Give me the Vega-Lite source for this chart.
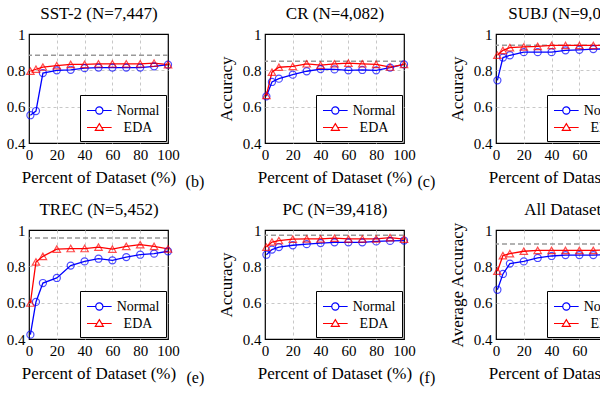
{
  "$schema": "https://vega.github.io/schema/vega-lite/v6.json",
  "background": "white",
  "padding": {"left": 5, "top": 3, "right": 5, "bottom": 5},
  "datasets": {
    "acc": [
      {"panel": "SST-2", "series": "Normal", "pct": 1, "acc": 0.553},
      {"panel": "SST-2", "series": "Normal", "pct": 5, "acc": 0.576},
      {"panel": "SST-2", "series": "Normal", "pct": 10, "acc": 0.785},
      {"panel": "SST-2", "series": "Normal", "pct": 20, "acc": 0.800},
      {"panel": "SST-2", "series": "Normal", "pct": 30, "acc": 0.803},
      {"panel": "SST-2", "series": "Normal", "pct": 40, "acc": 0.812},
      {"panel": "SST-2", "series": "Normal", "pct": 50, "acc": 0.815},
      {"panel": "SST-2", "series": "Normal", "pct": 60, "acc": 0.815},
      {"panel": "SST-2", "series": "Normal", "pct": 70, "acc": 0.815},
      {"panel": "SST-2", "series": "Normal", "pct": 80, "acc": 0.815},
      {"panel": "SST-2", "series": "Normal", "pct": 90, "acc": 0.822},
      {"panel": "SST-2", "series": "Normal", "pct": 100, "acc": 0.831},
      {"panel": "SST-2", "series": "EDA", "pct": 1, "acc": 0.795},
      {"panel": "SST-2", "series": "EDA", "pct": 5, "acc": 0.806},
      {"panel": "SST-2", "series": "EDA", "pct": 10, "acc": 0.818},
      {"panel": "SST-2", "series": "EDA", "pct": 20, "acc": 0.826},
      {"panel": "SST-2", "series": "EDA", "pct": 30, "acc": 0.833},
      {"panel": "SST-2", "series": "EDA", "pct": 40, "acc": 0.833},
      {"panel": "SST-2", "series": "EDA", "pct": 50, "acc": 0.836},
      {"panel": "SST-2", "series": "EDA", "pct": 60, "acc": 0.836},
      {"panel": "SST-2", "series": "EDA", "pct": 70, "acc": 0.836},
      {"panel": "SST-2", "series": "EDA", "pct": 80, "acc": 0.836},
      {"panel": "SST-2", "series": "EDA", "pct": 90, "acc": 0.840},
      {"panel": "SST-2", "series": "EDA", "pct": 100, "acc": 0.831},
      {"panel": "CR", "series": "Normal", "pct": 1, "acc": 0.657},
      {"panel": "CR", "series": "Normal", "pct": 5, "acc": 0.736},
      {"panel": "CR", "series": "Normal", "pct": 10, "acc": 0.754},
      {"panel": "CR", "series": "Normal", "pct": 20, "acc": 0.776},
      {"panel": "CR", "series": "Normal", "pct": 30, "acc": 0.795},
      {"panel": "CR", "series": "Normal", "pct": 40, "acc": 0.807},
      {"panel": "CR", "series": "Normal", "pct": 50, "acc": 0.805},
      {"panel": "CR", "series": "Normal", "pct": 60, "acc": 0.800},
      {"panel": "CR", "series": "Normal", "pct": 70, "acc": 0.802},
      {"panel": "CR", "series": "Normal", "pct": 80, "acc": 0.800},
      {"panel": "CR", "series": "Normal", "pct": 90, "acc": 0.815},
      {"panel": "CR", "series": "Normal", "pct": 100, "acc": 0.833},
      {"panel": "CR", "series": "EDA", "pct": 1, "acc": 0.662},
      {"panel": "CR", "series": "EDA", "pct": 5, "acc": 0.790},
      {"panel": "CR", "series": "EDA", "pct": 10, "acc": 0.817},
      {"panel": "CR", "series": "EDA", "pct": 20, "acc": 0.822},
      {"panel": "CR", "series": "EDA", "pct": 30, "acc": 0.836},
      {"panel": "CR", "series": "EDA", "pct": 40, "acc": 0.829},
      {"panel": "CR", "series": "EDA", "pct": 50, "acc": 0.836},
      {"panel": "CR", "series": "EDA", "pct": 60, "acc": 0.840},
      {"panel": "CR", "series": "EDA", "pct": 70, "acc": 0.836},
      {"panel": "CR", "series": "EDA", "pct": 80, "acc": 0.833},
      {"panel": "CR", "series": "EDA", "pct": 90, "acc": 0.818},
      {"panel": "CR", "series": "EDA", "pct": 100, "acc": 0.833},
      {"panel": "SUBJ", "series": "Normal", "pct": 1, "acc": 0.745},
      {"panel": "SUBJ", "series": "Normal", "pct": 5, "acc": 0.870},
      {"panel": "SUBJ", "series": "Normal", "pct": 10, "acc": 0.883},
      {"panel": "SUBJ", "series": "Normal", "pct": 20, "acc": 0.900},
      {"panel": "SUBJ", "series": "Normal", "pct": 30, "acc": 0.900},
      {"panel": "SUBJ", "series": "Normal", "pct": 40, "acc": 0.900},
      {"panel": "SUBJ", "series": "Normal", "pct": 50, "acc": 0.910},
      {"panel": "SUBJ", "series": "Normal", "pct": 60, "acc": 0.913},
      {"panel": "SUBJ", "series": "Normal", "pct": 70, "acc": 0.917},
      {"panel": "SUBJ", "series": "Normal", "pct": 80, "acc": 0.918},
      {"panel": "SUBJ", "series": "Normal", "pct": 90, "acc": 0.920},
      {"panel": "SUBJ", "series": "Normal", "pct": 100, "acc": 0.920},
      {"panel": "SUBJ", "series": "EDA", "pct": 1, "acc": 0.883},
      {"panel": "SUBJ", "series": "EDA", "pct": 5, "acc": 0.910},
      {"panel": "SUBJ", "series": "EDA", "pct": 10, "acc": 0.925},
      {"panel": "SUBJ", "series": "EDA", "pct": 20, "acc": 0.929},
      {"panel": "SUBJ", "series": "EDA", "pct": 30, "acc": 0.932},
      {"panel": "SUBJ", "series": "EDA", "pct": 40, "acc": 0.937},
      {"panel": "SUBJ", "series": "EDA", "pct": 50, "acc": 0.937},
      {"panel": "SUBJ", "series": "EDA", "pct": 60, "acc": 0.937},
      {"panel": "SUBJ", "series": "EDA", "pct": 70, "acc": 0.937},
      {"panel": "SUBJ", "series": "EDA", "pct": 80, "acc": 0.937},
      {"panel": "SUBJ", "series": "EDA", "pct": 90, "acc": 0.937},
      {"panel": "SUBJ", "series": "EDA", "pct": 100, "acc": 0.937},
      {"panel": "TREC", "series": "Normal", "pct": 1, "acc": 0.424},
      {"panel": "TREC", "series": "Normal", "pct": 5, "acc": 0.604},
      {"panel": "TREC", "series": "Normal", "pct": 10, "acc": 0.708},
      {"panel": "TREC", "series": "Normal", "pct": 20, "acc": 0.736},
      {"panel": "TREC", "series": "Normal", "pct": 30, "acc": 0.804},
      {"panel": "TREC", "series": "Normal", "pct": 40, "acc": 0.827},
      {"panel": "TREC", "series": "Normal", "pct": 50, "acc": 0.842},
      {"panel": "TREC", "series": "Normal", "pct": 60, "acc": 0.833},
      {"panel": "TREC", "series": "Normal", "pct": 70, "acc": 0.851},
      {"panel": "TREC", "series": "Normal", "pct": 80, "acc": 0.864},
      {"panel": "TREC", "series": "Normal", "pct": 90, "acc": 0.870},
      {"panel": "TREC", "series": "Normal", "pct": 100, "acc": 0.883},
      {"panel": "TREC", "series": "EDA", "pct": 1, "acc": 0.598},
      {"panel": "TREC", "series": "EDA", "pct": 5, "acc": 0.824},
      {"panel": "TREC", "series": "EDA", "pct": 10, "acc": 0.855},
      {"panel": "TREC", "series": "EDA", "pct": 20, "acc": 0.895},
      {"panel": "TREC", "series": "EDA", "pct": 30, "acc": 0.898},
      {"panel": "TREC", "series": "EDA", "pct": 40, "acc": 0.898},
      {"panel": "TREC", "series": "EDA", "pct": 50, "acc": 0.906},
      {"panel": "TREC", "series": "EDA", "pct": 60, "acc": 0.895},
      {"panel": "TREC", "series": "EDA", "pct": 70, "acc": 0.910},
      {"panel": "TREC", "series": "EDA", "pct": 80, "acc": 0.919},
      {"panel": "TREC", "series": "EDA", "pct": 90, "acc": 0.910},
      {"panel": "TREC", "series": "EDA", "pct": 100, "acc": 0.896},
      {"panel": "PC", "series": "Normal", "pct": 1, "acc": 0.864},
      {"panel": "PC", "series": "Normal", "pct": 5, "acc": 0.892},
      {"panel": "PC", "series": "Normal", "pct": 10, "acc": 0.906},
      {"panel": "PC", "series": "Normal", "pct": 20, "acc": 0.916},
      {"panel": "PC", "series": "Normal", "pct": 30, "acc": 0.922},
      {"panel": "PC", "series": "Normal", "pct": 40, "acc": 0.928},
      {"panel": "PC", "series": "Normal", "pct": 50, "acc": 0.932},
      {"panel": "PC", "series": "Normal", "pct": 60, "acc": 0.932},
      {"panel": "PC", "series": "Normal", "pct": 70, "acc": 0.932},
      {"panel": "PC", "series": "Normal", "pct": 80, "acc": 0.937},
      {"panel": "PC", "series": "Normal", "pct": 90, "acc": 0.940},
      {"panel": "PC", "series": "Normal", "pct": 100, "acc": 0.942},
      {"panel": "PC", "series": "EDA", "pct": 1, "acc": 0.906},
      {"panel": "PC", "series": "EDA", "pct": 5, "acc": 0.934},
      {"panel": "PC", "series": "EDA", "pct": 10, "acc": 0.942},
      {"panel": "PC", "series": "EDA", "pct": 20, "acc": 0.950},
      {"panel": "PC", "series": "EDA", "pct": 30, "acc": 0.951},
      {"panel": "PC", "series": "EDA", "pct": 40, "acc": 0.951},
      {"panel": "PC", "series": "EDA", "pct": 50, "acc": 0.955},
      {"panel": "PC", "series": "EDA", "pct": 60, "acc": 0.951},
      {"panel": "PC", "series": "EDA", "pct": 70, "acc": 0.951},
      {"panel": "PC", "series": "EDA", "pct": 80, "acc": 0.951},
      {"panel": "PC", "series": "EDA", "pct": 90, "acc": 0.958},
      {"panel": "PC", "series": "EDA", "pct": 100, "acc": 0.950},
      {"panel": "All", "series": "Normal", "pct": 1, "acc": 0.671},
      {"panel": "All", "series": "Normal", "pct": 5, "acc": 0.758},
      {"panel": "All", "series": "Normal", "pct": 10, "acc": 0.815},
      {"panel": "All", "series": "Normal", "pct": 20, "acc": 0.827},
      {"panel": "All", "series": "Normal", "pct": 30, "acc": 0.846},
      {"panel": "All", "series": "Normal", "pct": 40, "acc": 0.857},
      {"panel": "All", "series": "Normal", "pct": 50, "acc": 0.862},
      {"panel": "All", "series": "Normal", "pct": 60, "acc": 0.862},
      {"panel": "All", "series": "Normal", "pct": 70, "acc": 0.862},
      {"panel": "All", "series": "Normal", "pct": 80, "acc": 0.865},
      {"panel": "All", "series": "Normal", "pct": 90, "acc": 0.870},
      {"panel": "All", "series": "Normal", "pct": 100, "acc": 0.872},
      {"panel": "All", "series": "EDA", "pct": 1, "acc": 0.773},
      {"panel": "All", "series": "EDA", "pct": 5, "acc": 0.859},
      {"panel": "All", "series": "EDA", "pct": 10, "acc": 0.870},
      {"panel": "All", "series": "EDA", "pct": 20, "acc": 0.883},
      {"panel": "All", "series": "EDA", "pct": 30, "acc": 0.888},
      {"panel": "All", "series": "EDA", "pct": 40, "acc": 0.888},
      {"panel": "All", "series": "EDA", "pct": 50, "acc": 0.888},
      {"panel": "All", "series": "EDA", "pct": 60, "acc": 0.888},
      {"panel": "All", "series": "EDA", "pct": 70, "acc": 0.888},
      {"panel": "All", "series": "EDA", "pct": 80, "acc": 0.890},
      {"panel": "All", "series": "EDA", "pct": 90, "acc": 0.890},
      {"panel": "All", "series": "EDA", "pct": 100, "acc": 0.890}
    ],
    "refs": [
      {"panel": "SST-2", "acc": 0.883},
      {"panel": "CR", "acc": 0.85},
      {"panel": "SUBJ", "acc": 0.938},
      {"panel": "TREC", "acc": 0.956},
      {"panel": "PC", "acc": 0.971},
      {"panel": "All", "acc": 0.923}
    ]
  },
  "columns": 3,
  "align": "each",
  "spacing": {"column": 11, "row": 8},
  "resolve": {
    "scale": {"color": "independent", "shape": "independent"},
    "legend": {"color": "independent", "shape": "independent"}
  },
  "concat": [
    {
      "width": 139, "height": 109,
      "title": {"text": "(b)", "orient": "bottom", "anchor": "end", "dx": 25, "offset": -11},
      "data": {"name": "acc"},
      "transform": [{"filter": "datum.panel === 'SST-2'"}],
      "layer": [
        {"data": {"name": "refs"}, "transform": [{"filter": "datum.panel === 'SST-2'"}],
         "mark": {"type": "rule", "color": "#999999", "strokeDash": [5, 3], "strokeWidth": 1.3},
         "encoding": {"y": {"field": "acc", "type": "quantitative", "scale": {"domain": [0.4, 1]}, "axis": {"title": null, "values": [0.4, 0.6, 0.8, 1], "labelExpr": "datum.value == 1 ? '1' : format(datum.value, '.1f')", "grid": true, "gridOpacity": {"condition": {"test": "datum.value == 0.4 || datum.value == 1", "value": 0}, "value": 1}}}}},
        {"mark": {"type": "line", "strokeWidth": 1.3},
         "encoding": {
           "x": {"field": "pct", "type": "quantitative", "scale": {"domain": [0, 100]}, "axis": {"orient": "bottom", "title": "Percent of Dataset (%)", "titleFontWeight": "normal", "titleFontSize": 17, "values": [0, 20, 40, 60, 80, 100], "grid": true, "gridOpacity": {"condition": {"test": "datum.value == 0 || datum.value == 100", "value": 0}, "value": 1}}},
           "y": {"field": "acc", "type": "quantitative", "scale": {"domain": [0.4, 1]}, "axis": {"title": null, "values": [0.4, 0.6, 0.8, 1], "labelExpr": "datum.value == 1 ? '1' : format(datum.value, '.1f')", "grid": true, "gridOpacity": {"condition": {"test": "datum.value == 0.4 || datum.value == 1", "value": 0}, "value": 1}}},
           "color": {"field": "series", "type": "nominal", "scale": {"domain": ["Normal", "EDA"], "range": ["#0000ff", "#ff0000"]}, "legend": {"title": null, "strokeColor": "black", "fillColor": "white", "symbolOpacity": 1}}}},
        {"transform": [{"filter": "datum.series === 'Normal'"}],
         "mark": {"type": "point", "shape": "circle", "filled": false, "strokeWidth": 1.2, "size": 50},
         "encoding": {
           "x": {"field": "pct", "type": "quantitative", "axis": null},
           "y": {"field": "acc", "type": "quantitative", "axis": {"title": null, "values": [0.4, 0.6, 0.8, 1], "labelExpr": "datum.value == 1 ? '1' : format(datum.value, '.1f')", "grid": true, "gridOpacity": {"condition": {"test": "datum.value == 0.4 || datum.value == 1", "value": 0}, "value": 1}}},
           "color": {"field": "series", "type": "nominal", "legend": {"title": null, "strokeColor": "black", "fillColor": "white", "symbolOpacity": 1}}}},
        {"transform": [{"filter": "datum.series === 'EDA'"}],
         "mark": {"type": "point", "shape": "triangle-up", "filled": false, "strokeWidth": 1.2, "size": 55},
         "encoding": {
           "x": {"field": "pct", "type": "quantitative", "axis": null},
           "y": {"field": "acc", "type": "quantitative", "axis": {"title": null, "values": [0.4, 0.6, 0.8, 1], "labelExpr": "datum.value == 1 ? '1' : format(datum.value, '.1f')", "grid": true, "gridOpacity": {"condition": {"test": "datum.value == 0.4 || datum.value == 1", "value": 0}, "value": 1}}},
           "color": {"field": "series", "type": "nominal", "legend": {"title": null, "strokeColor": "black", "fillColor": "white", "symbolOpacity": 1}}}},
        {"mark": {"type": "point", "filled": false, "opacity": 0, "strokeWidth": 1.2},
         "encoding": {
           "x": {"field": "pct", "type": "quantitative", "axis": {"orient": "top", "title": "SST-2 (N=7,447)", "titleFontWeight": "normal", "labels": false, "grid": false, "titleFontSize": 17, "titlePadding": 12}},
           "y": {"field": "acc", "type": "quantitative", "axis": {"title": null, "values": [0.4, 0.6, 0.8, 1], "labelExpr": "datum.value == 1 ? '1' : format(datum.value, '.1f')", "grid": true, "gridOpacity": {"condition": {"test": "datum.value == 0.4 || datum.value == 1", "value": 0}, "value": 1}}},
           "color": {"field": "series", "type": "nominal", "legend": {"title": null, "strokeColor": "black", "fillColor": "white", "symbolOpacity": 1}},
           "shape": {"field": "series", "type": "nominal", "scale": {"domain": ["Normal", "EDA"], "range": ["M-1,0L0.03,0M0.87,0L1.9,0M0.03,0A0.42,0.42,0,1,1,0.87,0A0.42,0.42,0,1,1,0.03,0", "M-1,0L0.18,0M0.72,0L1.9,0M0.45,-0.45L0.92,0.33L-0.02,0.33Z"]}, "legend": {"title": null, "strokeColor": "black", "fillColor": "white", "symbolOpacity": 1}}}}
      ]
    },
    {
      "width": 139, "height": 109,
      "title": {"text": "(c)", "orient": "bottom", "anchor": "end", "dx": 20, "offset": -11},
      "data": {"name": "acc"},
      "transform": [{"filter": "datum.panel === 'CR'"}],
      "layer": [
        {"data": {"name": "refs"}, "transform": [{"filter": "datum.panel === 'CR'"}],
         "mark": {"type": "rule", "color": "#999999", "strokeDash": [5, 3], "strokeWidth": 1.3},
         "encoding": {"y": {"field": "acc", "type": "quantitative", "scale": {"domain": [0.4, 1]}, "axis": {"title": "Accuracy", "values": [0.4, 0.6, 0.8, 1], "labelExpr": "datum.value == 1 ? '1' : format(datum.value, '.1f')", "grid": true, "gridOpacity": {"condition": {"test": "datum.value == 0.4 || datum.value == 1", "value": 0}, "value": 1}}}}},
        {"mark": {"type": "line", "strokeWidth": 1.3},
         "encoding": {
           "x": {"field": "pct", "type": "quantitative", "scale": {"domain": [0, 100]}, "axis": {"orient": "bottom", "title": "Percent of Dataset (%)", "titleFontWeight": "normal", "titleFontSize": 17, "values": [0, 20, 40, 60, 80, 100], "grid": true, "gridOpacity": {"condition": {"test": "datum.value == 0 || datum.value == 100", "value": 0}, "value": 1}}},
           "y": {"field": "acc", "type": "quantitative", "scale": {"domain": [0.4, 1]}, "axis": {"title": "Accuracy", "values": [0.4, 0.6, 0.8, 1], "labelExpr": "datum.value == 1 ? '1' : format(datum.value, '.1f')", "grid": true, "gridOpacity": {"condition": {"test": "datum.value == 0.4 || datum.value == 1", "value": 0}, "value": 1}}},
           "color": {"field": "series", "type": "nominal", "scale": {"domain": ["Normal", "EDA"], "range": ["#0000ff", "#ff0000"]}, "legend": {"title": null, "strokeColor": "black", "fillColor": "white", "symbolOpacity": 1}}}},
        {"transform": [{"filter": "datum.series === 'Normal'"}],
         "mark": {"type": "point", "shape": "circle", "filled": false, "strokeWidth": 1.2, "size": 50},
         "encoding": {
           "x": {"field": "pct", "type": "quantitative", "axis": null},
           "y": {"field": "acc", "type": "quantitative", "axis": {"title": "Accuracy", "values": [0.4, 0.6, 0.8, 1], "labelExpr": "datum.value == 1 ? '1' : format(datum.value, '.1f')", "grid": true, "gridOpacity": {"condition": {"test": "datum.value == 0.4 || datum.value == 1", "value": 0}, "value": 1}}},
           "color": {"field": "series", "type": "nominal", "legend": {"title": null, "strokeColor": "black", "fillColor": "white", "symbolOpacity": 1}}}},
        {"transform": [{"filter": "datum.series === 'EDA'"}],
         "mark": {"type": "point", "shape": "triangle-up", "filled": false, "strokeWidth": 1.2, "size": 55},
         "encoding": {
           "x": {"field": "pct", "type": "quantitative", "axis": null},
           "y": {"field": "acc", "type": "quantitative", "axis": {"title": "Accuracy", "values": [0.4, 0.6, 0.8, 1], "labelExpr": "datum.value == 1 ? '1' : format(datum.value, '.1f')", "grid": true, "gridOpacity": {"condition": {"test": "datum.value == 0.4 || datum.value == 1", "value": 0}, "value": 1}}},
           "color": {"field": "series", "type": "nominal", "legend": {"title": null, "strokeColor": "black", "fillColor": "white", "symbolOpacity": 1}}}},
        {"mark": {"type": "point", "filled": false, "opacity": 0, "strokeWidth": 1.2},
         "encoding": {
           "x": {"field": "pct", "type": "quantitative", "axis": {"orient": "top", "title": "CR (N=4,082)", "titleFontWeight": "normal", "labels": false, "grid": false, "titleFontSize": 17, "titlePadding": 12}},
           "y": {"field": "acc", "type": "quantitative", "axis": {"title": "Accuracy", "values": [0.4, 0.6, 0.8, 1], "labelExpr": "datum.value == 1 ? '1' : format(datum.value, '.1f')", "grid": true, "gridOpacity": {"condition": {"test": "datum.value == 0.4 || datum.value == 1", "value": 0}, "value": 1}}},
           "color": {"field": "series", "type": "nominal", "legend": {"title": null, "strokeColor": "black", "fillColor": "white", "symbolOpacity": 1}},
           "shape": {"field": "series", "type": "nominal", "scale": {"domain": ["Normal", "EDA"], "range": ["M-1,0L0.03,0M0.87,0L1.9,0M0.03,0A0.42,0.42,0,1,1,0.87,0A0.42,0.42,0,1,1,0.03,0", "M-1,0L0.18,0M0.72,0L1.9,0M0.45,-0.45L0.92,0.33L-0.02,0.33Z"]}, "legend": {"title": null, "strokeColor": "black", "fillColor": "white", "symbolOpacity": 1}}}}
      ]
    },
    {
      "width": 139, "height": 109,
      "data": {"name": "acc"},
      "transform": [{"filter": "datum.panel === 'SUBJ'"}],
      "layer": [
        {"data": {"name": "refs"}, "transform": [{"filter": "datum.panel === 'SUBJ'"}],
         "mark": {"type": "rule", "color": "#999999", "strokeDash": [5, 3], "strokeWidth": 1.3},
         "encoding": {"y": {"field": "acc", "type": "quantitative", "scale": {"domain": [0.4, 1]}, "axis": {"title": "Accuracy", "values": [0.4, 0.6, 0.8, 1], "labelExpr": "datum.value == 1 ? '1' : format(datum.value, '.1f')", "grid": true, "gridOpacity": {"condition": {"test": "datum.value == 0.4 || datum.value == 1", "value": 0}, "value": 1}}}}},
        {"mark": {"type": "line", "strokeWidth": 1.3},
         "encoding": {
           "x": {"field": "pct", "type": "quantitative", "scale": {"domain": [0, 100]}, "axis": {"orient": "bottom", "title": "Percent of Dataset (%)", "titleFontWeight": "normal", "titleFontSize": 17, "values": [0, 20, 40, 60, 80, 100], "grid": true, "gridOpacity": {"condition": {"test": "datum.value == 0 || datum.value == 100", "value": 0}, "value": 1}}},
           "y": {"field": "acc", "type": "quantitative", "scale": {"domain": [0.4, 1]}, "axis": {"title": "Accuracy", "values": [0.4, 0.6, 0.8, 1], "labelExpr": "datum.value == 1 ? '1' : format(datum.value, '.1f')", "grid": true, "gridOpacity": {"condition": {"test": "datum.value == 0.4 || datum.value == 1", "value": 0}, "value": 1}}},
           "color": {"field": "series", "type": "nominal", "scale": {"domain": ["Normal", "EDA"], "range": ["#0000ff", "#ff0000"]}, "legend": {"title": null, "strokeColor": "black", "fillColor": "white", "symbolOpacity": 1}}}},
        {"transform": [{"filter": "datum.series === 'Normal'"}],
         "mark": {"type": "point", "shape": "circle", "filled": false, "strokeWidth": 1.2, "size": 50},
         "encoding": {
           "x": {"field": "pct", "type": "quantitative", "axis": null},
           "y": {"field": "acc", "type": "quantitative", "axis": {"title": "Accuracy", "values": [0.4, 0.6, 0.8, 1], "labelExpr": "datum.value == 1 ? '1' : format(datum.value, '.1f')", "grid": true, "gridOpacity": {"condition": {"test": "datum.value == 0.4 || datum.value == 1", "value": 0}, "value": 1}}},
           "color": {"field": "series", "type": "nominal", "legend": {"title": null, "strokeColor": "black", "fillColor": "white", "symbolOpacity": 1}}}},
        {"transform": [{"filter": "datum.series === 'EDA'"}],
         "mark": {"type": "point", "shape": "triangle-up", "filled": false, "strokeWidth": 1.2, "size": 55},
         "encoding": {
           "x": {"field": "pct", "type": "quantitative", "axis": null},
           "y": {"field": "acc", "type": "quantitative", "axis": {"title": "Accuracy", "values": [0.4, 0.6, 0.8, 1], "labelExpr": "datum.value == 1 ? '1' : format(datum.value, '.1f')", "grid": true, "gridOpacity": {"condition": {"test": "datum.value == 0.4 || datum.value == 1", "value": 0}, "value": 1}}},
           "color": {"field": "series", "type": "nominal", "legend": {"title": null, "strokeColor": "black", "fillColor": "white", "symbolOpacity": 1}}}},
        {"mark": {"type": "point", "filled": false, "opacity": 0, "strokeWidth": 1.2},
         "encoding": {
           "x": {"field": "pct", "type": "quantitative", "axis": {"orient": "top", "title": "SUBJ (N=9,000)", "titleFontWeight": "normal", "labels": false, "grid": false, "titleFontSize": 17, "titlePadding": 12}},
           "y": {"field": "acc", "type": "quantitative", "axis": {"title": "Accuracy", "values": [0.4, 0.6, 0.8, 1], "labelExpr": "datum.value == 1 ? '1' : format(datum.value, '.1f')", "grid": true, "gridOpacity": {"condition": {"test": "datum.value == 0.4 || datum.value == 1", "value": 0}, "value": 1}}},
           "color": {"field": "series", "type": "nominal", "legend": {"title": null, "strokeColor": "black", "fillColor": "white", "symbolOpacity": 1}},
           "shape": {"field": "series", "type": "nominal", "scale": {"domain": ["Normal", "EDA"], "range": ["M-1,0L0.03,0M0.87,0L1.9,0M0.03,0A0.42,0.42,0,1,1,0.87,0A0.42,0.42,0,1,1,0.03,0", "M-1,0L0.18,0M0.72,0L1.9,0M0.45,-0.45L0.92,0.33L-0.02,0.33Z"]}, "legend": {"title": null, "strokeColor": "black", "fillColor": "white", "symbolOpacity": 1}}}}
      ]
    },
    {
      "width": 139, "height": 109,
      "title": {"text": "(e)", "orient": "bottom", "anchor": "end", "dx": 25, "offset": -11},
      "data": {"name": "acc"},
      "transform": [{"filter": "datum.panel === 'TREC'"}],
      "layer": [
        {"data": {"name": "refs"}, "transform": [{"filter": "datum.panel === 'TREC'"}],
         "mark": {"type": "rule", "color": "#999999", "strokeDash": [5, 3], "strokeWidth": 1.3},
         "encoding": {"y": {"field": "acc", "type": "quantitative", "scale": {"domain": [0.4, 1]}, "axis": {"title": null, "values": [0.4, 0.6, 0.8, 1], "labelExpr": "datum.value == 1 ? '1' : format(datum.value, '.1f')", "grid": true, "gridOpacity": {"condition": {"test": "datum.value == 0.4 || datum.value == 1", "value": 0}, "value": 1}}}}},
        {"mark": {"type": "line", "strokeWidth": 1.3},
         "encoding": {
           "x": {"field": "pct", "type": "quantitative", "scale": {"domain": [0, 100]}, "axis": {"orient": "bottom", "title": "Percent of Dataset (%)", "titleFontWeight": "normal", "titleFontSize": 17, "values": [0, 20, 40, 60, 80, 100], "grid": true, "gridOpacity": {"condition": {"test": "datum.value == 0 || datum.value == 100", "value": 0}, "value": 1}}},
           "y": {"field": "acc", "type": "quantitative", "scale": {"domain": [0.4, 1]}, "axis": {"title": null, "values": [0.4, 0.6, 0.8, 1], "labelExpr": "datum.value == 1 ? '1' : format(datum.value, '.1f')", "grid": true, "gridOpacity": {"condition": {"test": "datum.value == 0.4 || datum.value == 1", "value": 0}, "value": 1}}},
           "color": {"field": "series", "type": "nominal", "scale": {"domain": ["Normal", "EDA"], "range": ["#0000ff", "#ff0000"]}, "legend": {"title": null, "strokeColor": "black", "fillColor": "white", "symbolOpacity": 1}}}},
        {"transform": [{"filter": "datum.series === 'Normal'"}],
         "mark": {"type": "point", "shape": "circle", "filled": false, "strokeWidth": 1.2, "size": 50},
         "encoding": {
           "x": {"field": "pct", "type": "quantitative", "axis": null},
           "y": {"field": "acc", "type": "quantitative", "axis": {"title": null, "values": [0.4, 0.6, 0.8, 1], "labelExpr": "datum.value == 1 ? '1' : format(datum.value, '.1f')", "grid": true, "gridOpacity": {"condition": {"test": "datum.value == 0.4 || datum.value == 1", "value": 0}, "value": 1}}},
           "color": {"field": "series", "type": "nominal", "legend": {"title": null, "strokeColor": "black", "fillColor": "white", "symbolOpacity": 1}}}},
        {"transform": [{"filter": "datum.series === 'EDA'"}],
         "mark": {"type": "point", "shape": "triangle-up", "filled": false, "strokeWidth": 1.2, "size": 55},
         "encoding": {
           "x": {"field": "pct", "type": "quantitative", "axis": null},
           "y": {"field": "acc", "type": "quantitative", "axis": {"title": null, "values": [0.4, 0.6, 0.8, 1], "labelExpr": "datum.value == 1 ? '1' : format(datum.value, '.1f')", "grid": true, "gridOpacity": {"condition": {"test": "datum.value == 0.4 || datum.value == 1", "value": 0}, "value": 1}}},
           "color": {"field": "series", "type": "nominal", "legend": {"title": null, "strokeColor": "black", "fillColor": "white", "symbolOpacity": 1}}}},
        {"mark": {"type": "point", "filled": false, "opacity": 0, "strokeWidth": 1.2},
         "encoding": {
           "x": {"field": "pct", "type": "quantitative", "axis": {"orient": "top", "title": "TREC (N=5,452)", "titleFontWeight": "normal", "labels": false, "grid": false, "titleFontSize": 17, "titlePadding": 12}},
           "y": {"field": "acc", "type": "quantitative", "axis": {"title": null, "values": [0.4, 0.6, 0.8, 1], "labelExpr": "datum.value == 1 ? '1' : format(datum.value, '.1f')", "grid": true, "gridOpacity": {"condition": {"test": "datum.value == 0.4 || datum.value == 1", "value": 0}, "value": 1}}},
           "color": {"field": "series", "type": "nominal", "legend": {"title": null, "strokeColor": "black", "fillColor": "white", "symbolOpacity": 1}},
           "shape": {"field": "series", "type": "nominal", "scale": {"domain": ["Normal", "EDA"], "range": ["M-1,0L0.03,0M0.87,0L1.9,0M0.03,0A0.42,0.42,0,1,1,0.87,0A0.42,0.42,0,1,1,0.03,0", "M-1,0L0.18,0M0.72,0L1.9,0M0.45,-0.45L0.92,0.33L-0.02,0.33Z"]}, "legend": {"title": null, "strokeColor": "black", "fillColor": "white", "symbolOpacity": 1}}}}
      ]
    },
    {
      "width": 139, "height": 109,
      "title": {"text": "(f)", "orient": "bottom", "anchor": "end", "dx": 20, "offset": -11},
      "data": {"name": "acc"},
      "transform": [{"filter": "datum.panel === 'PC'"}],
      "layer": [
        {"data": {"name": "refs"}, "transform": [{"filter": "datum.panel === 'PC'"}],
         "mark": {"type": "rule", "color": "#999999", "strokeDash": [5, 3], "strokeWidth": 1.3},
         "encoding": {"y": {"field": "acc", "type": "quantitative", "scale": {"domain": [0.4, 1]}, "axis": {"title": "Accuracy", "values": [0.4, 0.6, 0.8, 1], "labelExpr": "datum.value == 1 ? '1' : format(datum.value, '.1f')", "grid": true, "gridOpacity": {"condition": {"test": "datum.value == 0.4 || datum.value == 1", "value": 0}, "value": 1}}}}},
        {"mark": {"type": "line", "strokeWidth": 1.3},
         "encoding": {
           "x": {"field": "pct", "type": "quantitative", "scale": {"domain": [0, 100]}, "axis": {"orient": "bottom", "title": "Percent of Dataset (%)", "titleFontWeight": "normal", "titleFontSize": 17, "values": [0, 20, 40, 60, 80, 100], "grid": true, "gridOpacity": {"condition": {"test": "datum.value == 0 || datum.value == 100", "value": 0}, "value": 1}}},
           "y": {"field": "acc", "type": "quantitative", "scale": {"domain": [0.4, 1]}, "axis": {"title": "Accuracy", "values": [0.4, 0.6, 0.8, 1], "labelExpr": "datum.value == 1 ? '1' : format(datum.value, '.1f')", "grid": true, "gridOpacity": {"condition": {"test": "datum.value == 0.4 || datum.value == 1", "value": 0}, "value": 1}}},
           "color": {"field": "series", "type": "nominal", "scale": {"domain": ["Normal", "EDA"], "range": ["#0000ff", "#ff0000"]}, "legend": {"title": null, "strokeColor": "black", "fillColor": "white", "symbolOpacity": 1}}}},
        {"transform": [{"filter": "datum.series === 'Normal'"}],
         "mark": {"type": "point", "shape": "circle", "filled": false, "strokeWidth": 1.2, "size": 50},
         "encoding": {
           "x": {"field": "pct", "type": "quantitative", "axis": null},
           "y": {"field": "acc", "type": "quantitative", "axis": {"title": "Accuracy", "values": [0.4, 0.6, 0.8, 1], "labelExpr": "datum.value == 1 ? '1' : format(datum.value, '.1f')", "grid": true, "gridOpacity": {"condition": {"test": "datum.value == 0.4 || datum.value == 1", "value": 0}, "value": 1}}},
           "color": {"field": "series", "type": "nominal", "legend": {"title": null, "strokeColor": "black", "fillColor": "white", "symbolOpacity": 1}}}},
        {"transform": [{"filter": "datum.series === 'EDA'"}],
         "mark": {"type": "point", "shape": "triangle-up", "filled": false, "strokeWidth": 1.2, "size": 55},
         "encoding": {
           "x": {"field": "pct", "type": "quantitative", "axis": null},
           "y": {"field": "acc", "type": "quantitative", "axis": {"title": "Accuracy", "values": [0.4, 0.6, 0.8, 1], "labelExpr": "datum.value == 1 ? '1' : format(datum.value, '.1f')", "grid": true, "gridOpacity": {"condition": {"test": "datum.value == 0.4 || datum.value == 1", "value": 0}, "value": 1}}},
           "color": {"field": "series", "type": "nominal", "legend": {"title": null, "strokeColor": "black", "fillColor": "white", "symbolOpacity": 1}}}},
        {"mark": {"type": "point", "filled": false, "opacity": 0, "strokeWidth": 1.2},
         "encoding": {
           "x": {"field": "pct", "type": "quantitative", "axis": {"orient": "top", "title": "PC (N=39,418)", "titleFontWeight": "normal", "labels": false, "grid": false, "titleFontSize": 17, "titlePadding": 12}},
           "y": {"field": "acc", "type": "quantitative", "axis": {"title": "Accuracy", "values": [0.4, 0.6, 0.8, 1], "labelExpr": "datum.value == 1 ? '1' : format(datum.value, '.1f')", "grid": true, "gridOpacity": {"condition": {"test": "datum.value == 0.4 || datum.value == 1", "value": 0}, "value": 1}}},
           "color": {"field": "series", "type": "nominal", "legend": {"title": null, "strokeColor": "black", "fillColor": "white", "symbolOpacity": 1}},
           "shape": {"field": "series", "type": "nominal", "scale": {"domain": ["Normal", "EDA"], "range": ["M-1,0L0.03,0M0.87,0L1.9,0M0.03,0A0.42,0.42,0,1,1,0.87,0A0.42,0.42,0,1,1,0.03,0", "M-1,0L0.18,0M0.72,0L1.9,0M0.45,-0.45L0.92,0.33L-0.02,0.33Z"]}, "legend": {"title": null, "strokeColor": "black", "fillColor": "white", "symbolOpacity": 1}}}}
      ]
    },
    {
      "width": 139, "height": 109,
      "data": {"name": "acc"},
      "transform": [{"filter": "datum.panel === 'All'"}],
      "layer": [
        {"data": {"name": "refs"}, "transform": [{"filter": "datum.panel === 'All'"}],
         "mark": {"type": "rule", "color": "#999999", "strokeDash": [5, 3], "strokeWidth": 1.3},
         "encoding": {"y": {"field": "acc", "type": "quantitative", "scale": {"domain": [0.4, 1]}, "axis": {"title": "Average Accuracy", "values": [0.4, 0.6, 0.8, 1], "labelExpr": "datum.value == 1 ? '1' : format(datum.value, '.1f')", "grid": true, "gridOpacity": {"condition": {"test": "datum.value == 0.4 || datum.value == 1", "value": 0}, "value": 1}}}}},
        {"mark": {"type": "line", "strokeWidth": 1.3},
         "encoding": {
           "x": {"field": "pct", "type": "quantitative", "scale": {"domain": [0, 100]}, "axis": {"orient": "bottom", "title": "Percent of Dataset (%)", "titleFontWeight": "normal", "titleFontSize": 17, "values": [0, 20, 40, 60, 80, 100], "grid": true, "gridOpacity": {"condition": {"test": "datum.value == 0 || datum.value == 100", "value": 0}, "value": 1}}},
           "y": {"field": "acc", "type": "quantitative", "scale": {"domain": [0.4, 1]}, "axis": {"title": "Average Accuracy", "values": [0.4, 0.6, 0.8, 1], "labelExpr": "datum.value == 1 ? '1' : format(datum.value, '.1f')", "grid": true, "gridOpacity": {"condition": {"test": "datum.value == 0.4 || datum.value == 1", "value": 0}, "value": 1}}},
           "color": {"field": "series", "type": "nominal", "scale": {"domain": ["Normal", "EDA"], "range": ["#0000ff", "#ff0000"]}, "legend": {"title": null, "strokeColor": "black", "fillColor": "white", "symbolOpacity": 1}}}},
        {"transform": [{"filter": "datum.series === 'Normal'"}],
         "mark": {"type": "point", "shape": "circle", "filled": false, "strokeWidth": 1.2, "size": 50},
         "encoding": {
           "x": {"field": "pct", "type": "quantitative", "axis": null},
           "y": {"field": "acc", "type": "quantitative", "axis": {"title": "Average Accuracy", "values": [0.4, 0.6, 0.8, 1], "labelExpr": "datum.value == 1 ? '1' : format(datum.value, '.1f')", "grid": true, "gridOpacity": {"condition": {"test": "datum.value == 0.4 || datum.value == 1", "value": 0}, "value": 1}}},
           "color": {"field": "series", "type": "nominal", "legend": {"title": null, "strokeColor": "black", "fillColor": "white", "symbolOpacity": 1}}}},
        {"transform": [{"filter": "datum.series === 'EDA'"}],
         "mark": {"type": "point", "shape": "triangle-up", "filled": false, "strokeWidth": 1.2, "size": 55},
         "encoding": {
           "x": {"field": "pct", "type": "quantitative", "axis": null},
           "y": {"field": "acc", "type": "quantitative", "axis": {"title": "Average Accuracy", "values": [0.4, 0.6, 0.8, 1], "labelExpr": "datum.value == 1 ? '1' : format(datum.value, '.1f')", "grid": true, "gridOpacity": {"condition": {"test": "datum.value == 0.4 || datum.value == 1", "value": 0}, "value": 1}}},
           "color": {"field": "series", "type": "nominal", "legend": {"title": null, "strokeColor": "black", "fillColor": "white", "symbolOpacity": 1}}}},
        {"mark": {"type": "point", "filled": false, "opacity": 0, "strokeWidth": 1.2},
         "encoding": {
           "x": {"field": "pct", "type": "quantitative", "axis": {"orient": "top", "title": "All Datasets", "titleFontWeight": "normal", "labels": false, "grid": false, "titleFontSize": 17, "titlePadding": 12}},
           "y": {"field": "acc", "type": "quantitative", "axis": {"title": "Average Accuracy", "values": [0.4, 0.6, 0.8, 1], "labelExpr": "datum.value == 1 ? '1' : format(datum.value, '.1f')", "grid": true, "gridOpacity": {"condition": {"test": "datum.value == 0.4 || datum.value == 1", "value": 0}, "value": 1}}},
           "color": {"field": "series", "type": "nominal", "legend": {"title": null, "strokeColor": "black", "fillColor": "white", "symbolOpacity": 1}},
           "shape": {"field": "series", "type": "nominal", "scale": {"domain": ["Normal", "EDA"], "range": ["M-1,0L0.03,0M0.87,0L1.9,0M0.03,0A0.42,0.42,0,1,1,0.87,0A0.42,0.42,0,1,1,0.03,0", "M-1,0L0.18,0M0.72,0L1.9,0M0.45,-0.45L0.92,0.33L-0.02,0.33Z"]}, "legend": {"title": null, "strokeColor": "black", "fillColor": "white", "symbolOpacity": 1}}}}
      ]
    }
  ],
  "config": {
    "font": "Liberation Serif",
    "view": {"stroke": "black", "strokeWidth": 1.2},
    "title": {"font": "Liberation Serif", "fontSize": 16, "fontWeight": "normal", "color": "black"},
    "axis": {
      "labelFont": "Liberation Serif", "labelFontSize": 15, "labelColor": "black",
      "titleFont": "Liberation Serif", "titleFontSize": 17, "titleFontWeight": "normal", "titleColor": "black",
      "gridColor": "#c8c8c8", "gridDash": [3, 3], "gridWidth": 1,
      "ticks": false, "domain": false, "labelFlush": false, "labelOverlap": false,
      "labelPadding": 4, "titlePadding": 7
    },
    "legend": {
      "orient": "bottom-right", "offset": 2, "padding": 6,
      "labelFont": "Liberation Serif", "labelFontSize": 14, "labelColor": "black",
      "symbolSize": 289, "symbolStrokeWidth": 1.2, "symbolOpacity": 1, "rowPadding": 0,
      "labelOffset": 33, "labelAlign": "center"
    }
  }
}
